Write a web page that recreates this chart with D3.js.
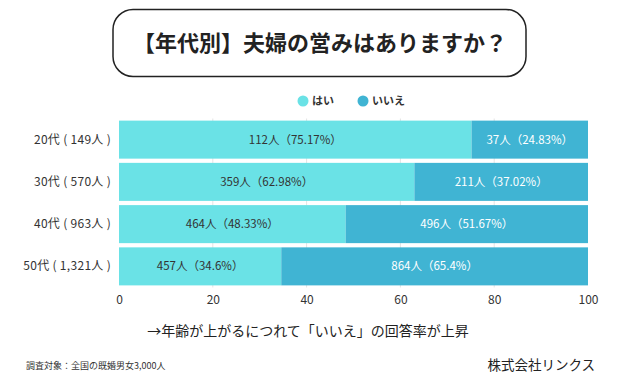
<!DOCTYPE html>
<html>
<head>
<meta charset="utf-8">
<script src="https://cdn.jsdelivr.net/npm/d3@7"></script>
<style>
  body { margin: 0; background: #fff; }
  svg { display: block; font-family: "Noto Sans CJK JP", "Noto Sans", sans-serif; }
</style>
</head>
<body>
<svg width="640" height="390"></svg>
<script>
const categories = ['20代 ( 149人 )', '30代 ( 570人 )', '40代 ( 963人 )', '50代 ( 1,321人 )'];
const yesCounts = [112, 359, 464, 457];
const noCounts = [37, 211, 496, 864];
const yesPct = [75.17, 62.98, 48.33, 34.6];
const noPct = [24.83, 37.02, 51.67, 65.4];
const seriesNames = ['はい', 'いいえ'];
const colors = ['#6ae2e6', '#40b4d3'];
const xTicks = [0, 20, 40, 60, 80, 100];

const svg = d3.select('svg');

// title box
svg.append('rect')
  .attr('x', 113).attr('y', 9.5)
  .attr('width', 413).attr('height', 67)
  .attr('rx', 20)
  .attr('fill', '#fff')
  .attr('stroke', '#222')
  .attr('stroke-width', 1.5);

svg.append('text')
  .attr('x', 320).attr('y', 51)
  .attr('text-anchor', 'middle')
  .attr('font-size', 22)
  .attr('font-weight', 'bold')
  .attr('fill', '#222')
  .text('【年代別】夫婦の営みはありますか？');

// legend
const legendX = [303, 363];
seriesNames.forEach((name, i) => {
  svg.append('circle')
    .attr('cx', legendX[i]).attr('cy', 101).attr('r', 5.5)
    .attr('fill', colors[i]);
  svg.append('text')
    .attr('x', legendX[i] + 9).attr('y', 105)
    .attr('font-size', 11)
    .attr('font-weight', 'bold')
    .attr('fill', '#333')
    .text(name);
});

const x = d3.scaleLinear().domain([0, 100]).range([119, 588]);
const y = d3.scaleBand().domain(categories).range([118.5, 287.5]).paddingInner(0.1).paddingOuter(0.05);

// gridlines
svg.append('g')
  .selectAll('line')
  .data(xTicks.slice(1, -1))
  .enter().append('line')
  .attr('x1', d => x(d)).attr('x2', d => x(d))
  .attr('y1', y.range()[0]).attr('y2', y.range()[1])
  .attr('stroke', '#e4e4e4');

const rows = categories.map((c, i) => ({
  cat: c,
  segs: [
    { x0: 0, x1: yesPct[i], label: `${yesCounts[i]}人（${yesPct[i]}%）`, s: 0 },
    { x0: yesPct[i], x1: 100, label: `${noCounts[i]}人（${noPct[i]}%）`, s: 1 }
  ]
}));

const row = svg.append('g')
  .selectAll('g')
  .data(rows)
  .enter().append('g')
  .attr('transform', d => `translate(0,${y(d.cat)})`);

row.selectAll('rect')
  .data(d => d.segs)
  .enter().append('rect')
  .attr('x', d => x(d.x0))
  .attr('width', d => x(d.x1) - x(d.x0))
  .attr('height', y.bandwidth())
  .attr('fill', d => colors[d.s]);

row.selectAll('text')
  .data(d => d.segs)
  .enter().append('text')
  .attr('x', d => (x(d.x0) + x(d.x1)) / 2)
  .attr('y', y.bandwidth() / 2 + 4)
  .attr('text-anchor', 'middle')
  .attr('font-size', 11.5)
  .attr('fill', d => d.s === 0 ? '#333' : '#fff')
  .text(d => d.label);

// y labels
svg.append('g')
  .selectAll('text')
  .data(categories)
  .enter().append('text')
  .attr('x', 111)
  .attr('y', d => y(d) + y.bandwidth() / 2 + 4)
  .attr('text-anchor', 'end')
  .attr('font-size', 12)
  .attr('letter-spacing', 0.3)
  .attr('xml:space', 'preserve')
  .attr('fill', '#333')
  .text(d => d);

// x axis
const xAxis = svg.append('g')
  .attr('transform', 'translate(0,286)')
  .call(d3.axisBottom(x).tickValues(xTicks).tickSize(0).tickPadding(9));
xAxis.select('.domain').remove();
xAxis.selectAll('text')
  .attr('font-size', 12)
  .attr('fill', '#333')
  .attr('font-family', '"Noto Sans CJK JP", sans-serif');

// notes
svg.append('text')
  .attr('x', 308).attr('y', 336)
  .attr('text-anchor', 'middle')
  .attr('font-size', 14)
  .attr('fill', '#222')
  .text('→年齢が上がるにつれて「いいえ」の回答率が上昇');

svg.append('text')
  .attr('x', 26).attr('y', 369)
  .attr('font-size', 9)
  .attr('fill', '#333')
  .text('調査対象：全国の既婚男女3,000人');

svg.append('text')
  .attr('x', 595).attr('y', 370)
  .attr('text-anchor', 'end')
  .attr('font-size', 13.5)
  .attr('fill', '#222')
  .text('株式会社リンクス');
</script>
</body>
</html>
